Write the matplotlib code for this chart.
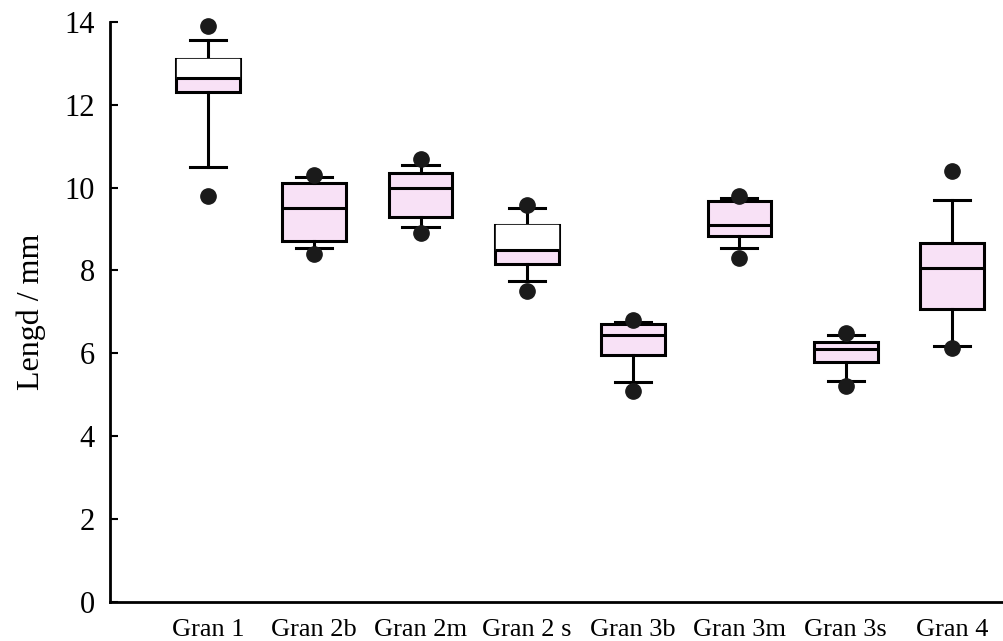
import matplotlib.pyplot as plt
import numpy as np

plt.rcParams['font.family'] = ['Liberation Serif', 'DejaVu Serif']

# Kategoriar og verdiar
labels = ['Gran 1', 'Gran 2b', 'Gran 2m', 'Gran 2 s', 'Gran 3b', 'Gran 3m', 'Gran 3s', 'Gran 4']
low_dot = [9.8, 8.4, 8.9, 7.5, 5.1, 8.3, 5.2, 6.13]
whislo = [10.5, 8.55, 9.05, 7.75, 5.3, 8.55, 5.32, 6.18]
q1 = [12.3, 8.7, 9.3, 8.15, 5.95, 8.82, 5.8, 7.08]
med = [12.65, 9.5, 10.0, 8.5, 6.45, 9.1, 6.1, 8.07]
q3 = [13.1, 10.1, 10.35, 9.1, 6.7, 9.67, 6.28, 8.65]
whishi = [13.55, 10.25, 10.55, 9.5, 6.75, 9.75, 6.43, 9.7]
high_dot = [13.9, 10.3, 10.7, 9.57, 6.8, 9.8, 6.5, 10.4]
# boksar der ovre halvdel er kvit
white_top = [True, False, False, True, False, False, False, False]

stats = []
for i in range(len(labels)):
    stats.append(dict(label=labels[i], med=med[i], q1=q1[i], q3=q3[i],
                      whislo=whislo[i], whishi=whishi[i],
                      fliers=[low_dot[i], high_dot[i]]))

fig = plt.figure(figsize=(10.04, 6.41), dpi=100)
ax = fig.add_axes([0.1096, 0.061, 0.8904, 0.905])

pos = np.arange(1, len(labels) + 1)
lw = 2.2
bp = ax.bxp(stats, positions=pos, widths=0.6, capwidths=0.34, patch_artist=True,
            boxprops=dict(facecolor='#f8e1f6', edgecolor='black', linewidth=lw),
            medianprops=dict(color='black', linewidth=lw),
            whiskerprops=dict(color='black', linewidth=lw),
            capprops=dict(color='black', linewidth=lw),
            flierprops=dict(marker='o', markerfacecolor='#1a1a1a', markeredgecolor='#1a1a1a',
                            markersize=11, linestyle='none'))
for f in bp['fliers']:
    f.set_clip_on(False)

for i, p in enumerate(pos):
    if white_top[i]:
        ax.fill_between([p - 0.29, p + 0.29], med[i], q3[i], color='white', zorder=2.05)

ax.set_xlim(0.078, 8.49)
ax.set_ylim(0, 14)
ax.set_yticks(np.arange(0, 15, 2))
ax.set_xticks(pos)
ax.set_xticklabels(labels, fontsize=19)
ax.tick_params(axis='x', length=0, pad=12)
ax.tick_params(axis='y', direction='in', length=6, width=1.5, labelsize=22, pad=11)
ax.spines['top'].set_visible(False)
ax.spines['right'].set_visible(False)
ax.spines['left'].set_linewidth(2)
ax.spines['bottom'].set_linewidth(2)
ax.set_ylabel('Lengd / mm', fontsize=23, labelpad=13)

plt.savefig('out.png', dpi=100)
